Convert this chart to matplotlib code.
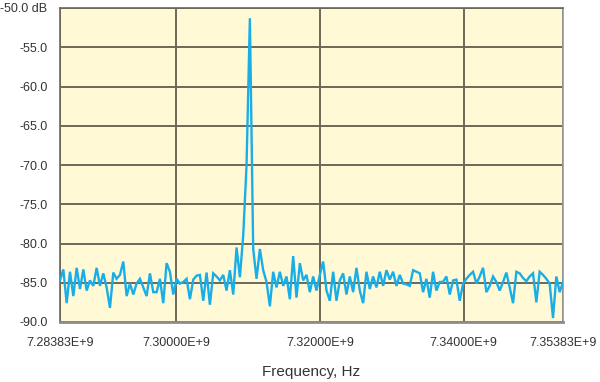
"""
Spectrum trace: single carrier near 7.31 GHz over the noise floor.
"""
import numpy as np
import matplotlib
matplotlib.use('Agg')
import matplotlib.pyplot as plt
from matplotlib import font_manager

F_START = 7.28383e9
F_STOP = 7.35383e9

# trace level, dB (one value per frequency bin, bins evenly spaced)
level_db = [
    -84.7, -83.3, -87.6, -83.6, -86.7, -83.1, -85.8, -83.3, -86.0, -84.7,
    -85.4, -83.1, -85.4, -83.8, -85.6, -88.2, -83.7, -84.5, -84.0, -82.3,
    -86.7, -85.1, -86.5, -85.1, -84.5, -85.6, -86.7, -83.8, -86.2, -86.2,
    -84.5, -87.6, -82.5, -83.6, -86.5, -84.5, -85.1, -84.9, -84.5, -87.1,
    -84.6, -84.1, -84.0, -87.3, -83.7, -87.8, -83.8, -84.2, -84.7, -84.0,
    -86.0, -83.4, -86.5, -80.5,
    -84.3, -79.0, -70.0, -51.3,
    -80.7, -84.5, -80.7, -83.4, -84.9, -88.0, -83.6, -85.6, -83.6, -85.4,
    -84.2, -87.1, -81.6, -86.9, -82.5, -84.7, -84.0, -86.2, -84.2, -86.0,
    -84.0, -82.3, -86.0, -87.3, -83.6, -87.3, -84.7, -83.8, -86.5,
    -84.2, -86.2, -83.1, -86.0, -87.6, -83.6, -85.8, -84.2, -85.6, -83.6,
    -85.4, -83.4, -84.6, -83.6, -85.4, -84.0, -85.1, -85.2, -85.4, -83.4,
    -83.6, -83.8, -86.2, -84.5, -86.9, -83.6, -86.0, -84.9,
    -84.9, -84.2, -86.5, -84.7, -84.6, -87.3, -85.1, -84.5, -84.0, -83.6,
    -85.1, -84.2, -83.1, -86.2, -85.4, -84.2, -84.9, -86.0, -84.9, -83.7,
    -85.6, -87.6, -83.6, -83.8, -84.4, -84.8, -84.2, -83.8, -87.5,
    -83.6, -84.0, -84.5, -85.1, -89.5, -84.2, -86.2, -84.9,
]

x_ticks = [7.28383e9, 7.30e9, 7.32e9, 7.34e9, 7.35383e9]
x_tick_labels = ['7.28383E+9', '7.30000E+9', '7.32000E+9', '7.34000E+9', '7.35383E+9']
y_ticks = [-90, -85, -80, -75, -70, -65, -60, -55, -50]
y_tick_labels = ['-90.0', '-85.0', '-80.0', '-75.0', '-70.0', '-65.0', '-60.0', '-55.0', '-50.0 dB']

installed = {f.name for f in font_manager.fontManager.ttflist}
face = 'Liberation Sans Narrow' if 'Liberation Sans Narrow' in installed else 'Liberation Sans'
plt.rcParams['font.family'] = [face, 'DejaVu Sans']

grid_c = '#6e6858'
text_c = '#333333'

freq = np.linspace(F_START, F_STOP, len(level_db))

fig = plt.figure(figsize=(6.0, 3.82), dpi=100)
ax = fig.add_axes([60 / 600, 60 / 382, 503 / 600, 314 / 382])
ax.set_facecolor('#fff9d6')

ax.plot(freq, level_db, c='#1aaee8', lw=1.7, solid_joinstyle='miter', zorder=3)

ax.set_xlim(F_START, F_STOP)
ax.set_ylim(-90, -50)
ax.set_xticks(x_ticks)
ax.set_xticklabels(x_tick_labels)
ax.set_yticks(y_ticks)
ax.set_yticklabels(y_tick_labels)
ax.tick_params(length=0, labelsize=9, colors=text_c)
ax.tick_params(axis='x', pad=11)
ax.tick_params(axis='y', pad=9)

ax.grid(True, color=grid_c, lw=1.4)
ax.set_axisbelow(True)
for side in ('left', 'top', 'right'):
    ax.spines[side].set_color(grid_c)
    ax.spines[side].set_linewidth(1.2)
ax.spines['right'].set_color('#9a9a9a')
ax.spines['bottom'].set_color('#8c8c8c')
ax.spines['bottom'].set_linewidth(2.0)

ax.set_xlabel('Frequency, Hz', fontsize=11, color=text_c, labelpad=11)

fig.savefig('out.png', dpi=100)
